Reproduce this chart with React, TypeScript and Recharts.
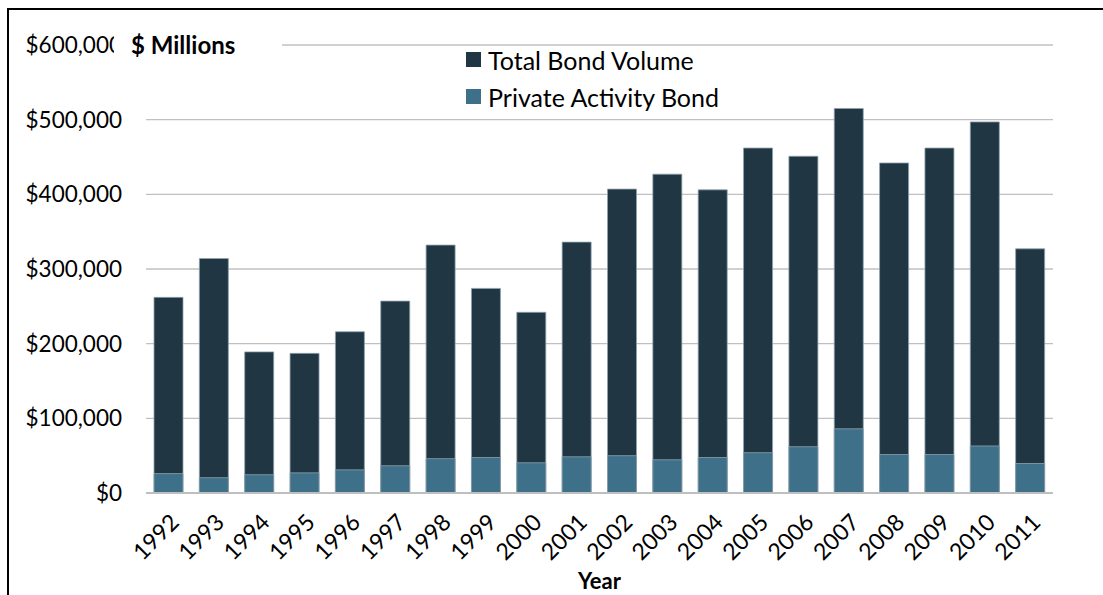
import React from 'react';
import { BarChart, Bar, XAxis, YAxis, CartesianGrid, Legend } from 'recharts';

const years = ['1992', '1993', '1994', '1995', '1996', '1997', '1998', '1999', '2000', '2001', '2002', '2003', '2004', '2005', '2006', '2007', '2008', '2009', '2010', '2011'];
// $ millions
const totalBondVolume = [262000, 314000, 189000, 187000, 216000, 257000, 332000, 274000, 242000, 336000, 407000, 427000, 406000, 462000, 451000, 515000, 442000, 462000, 497000, 327000];
const privateActivityBond = [26000, 20500, 24500, 27000, 31000, 36500, 46000, 47500, 40500, 48500, 50000, 44500, 47500, 54000, 62000, 86000, 51500, 51500, 63000, 39500];
const yTicks = [0, 100000, 200000, 300000, 400000, 500000, 600000];
const seriesNames = ['Total Bond Volume', 'Private Activity Bond'];

const FONT = 'Lato, "Open Sans", sans-serif';
const DARK = '#203642';
const TEAL = '#3e7189';

const data = years.map((year, i) => ({
    year,
    total: totalBondVolume[i],
    pab: privateActivityBond[i],
}));

const money = (v: number) => '$' + v.toLocaleString('en-US');

// eslint-disable-next-line @typescript-eslint/no-explicit-any
const YearTick = ({ x, y, payload }: any) => (
    <g transform={`translate(${x + 6},${y + 17})`}>
        <text textAnchor="end" transform="rotate(-45)" dy="0.35em" fontSize={23} fontFamily={FONT} fill="#000">
            {payload.value}
        </text>
    </g>
);

// legend keeps the reference order: total first
// eslint-disable-next-line @typescript-eslint/no-explicit-any
const LegendContent = ({ payload }: any) => {
    // eslint-disable-next-line @typescript-eslint/no-explicit-any
    const items = [...(payload || [])].sort((a: any, b: any) => seriesNames.indexOf(a.value) - seriesNames.indexOf(b.value));
    return (
        <div style={{ fontFamily: FONT, fontSize: 25, color: '#000' }}>
            {/* eslint-disable-next-line @typescript-eslint/no-explicit-any */}
            {items.map((entry: any) => (
                <div key={entry.value} style={{ display: 'flex', alignItems: 'center', height: 37 }}>
                    <span style={{ width: 15, height: 15, background: entry.color, marginRight: 7, display: 'inline-block' }} />
                    <span>{entry.value}</span>
                </div>
            ))}
        </div>
    );
};

export default function App() {
    return (
        <div style={{ position: 'absolute', left: 0, top: 0, width: 1103, height: 595, background: '#fff', overflow: 'hidden' }}>
            <div style={{ position: 'absolute', left: 7, top: 8, width: 1100, height: 600, borderTop: '2px solid #000', borderLeft: '2px solid #000' }} />
            <div style={{ position: 'absolute', left: 0, top: 0 }}>
                <BarChart width={1103} height={595} data={data} margin={{ top: 45, right: 50, bottom: 0, left: 0 }} barGap={-29}>
                    <CartesianGrid vertical={false} stroke="#c0c0c0" strokeWidth={1.4} />
                    <XAxis
                        dataKey="year"
                        height={102}
                        axisLine={{ stroke: '#bfbfbf', strokeWidth: 2 }}
                        tickLine={false}
                        interval={0}
                        tick={<YearTick />}
                        label={{ value: 'Year', position: 'insideBottom', offset: 6, fontFamily: FONT, fontSize: 22, fontWeight: 700, fill: '#000' }}
                    />
                    <YAxis
                        width={146}
                        domain={[0, 600000]}
                        ticks={yTicks}
                        interval={0}
                        axisLine={false}
                        tickLine={false}
                        tickMargin={18}
                        tickFormatter={money}
                        tick={{ fontFamily: FONT, fontSize: 22.5, fill: '#000' }}
                    />
                    <Legend
                        layout="vertical"
                        align="center"
                        verticalAlign="middle"
                        content={<LegendContent />}
                        wrapperStyle={{ left: 466, top: 41, width: 330, height: 80 }}
                    />
                    <Bar dataKey="total" name={seriesNames[0]} fill={DARK} stroke="#8ea2ad" strokeWidth={0.8} barSize={29} isAnimationActive={false} />
                    <Bar dataKey="pab" name={seriesNames[1]} fill={TEAL} stroke="#8ea2ad" strokeWidth={0.8} barSize={29} isAnimationActive={false} />
                </BarChart>
            </div>
            <div
                style={{
                    position: 'absolute',
                    left: 114,
                    top: 28,
                    width: 168,
                    height: 34,
                    background: '#fff',
                    fontFamily: FONT,
                    fontWeight: 700,
                    fontSize: 24,
                    lineHeight: '34px',
                    paddingLeft: 17,
                    boxSizing: 'border-box',
                    color: '#000',
                }}
            >
                $ Millions
            </div>
        </div>
    );
}
